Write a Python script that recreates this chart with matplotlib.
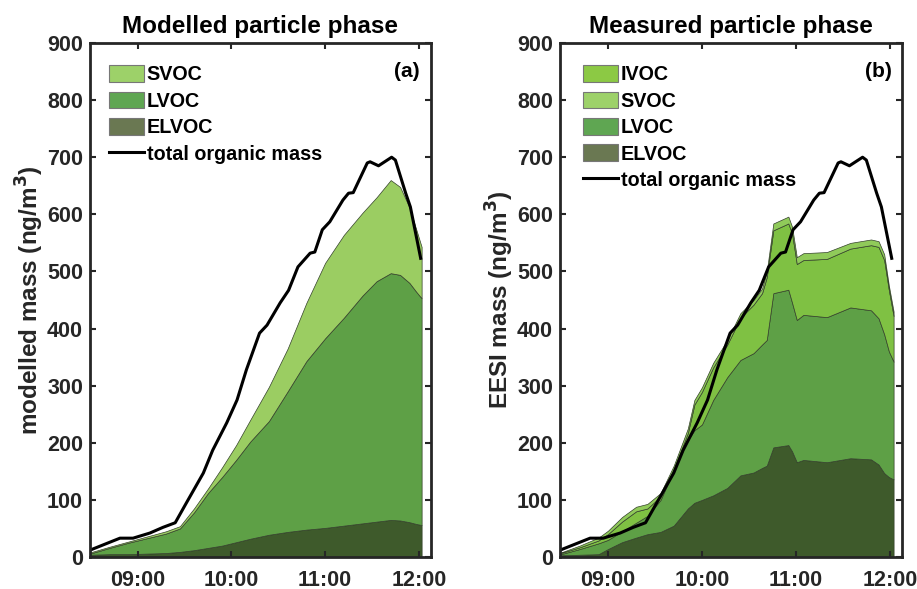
import numpy as np
import matplotlib
matplotlib.use("Agg")
import matplotlib.pyplot as plt
from matplotlib.patches import Patch
from matplotlib.lines import Line2D

plt.rcParams['font.family'] = ['Liberation Sans', 'DejaVu Sans']
plt.rcParams['font.weight'] = 'bold'

# ---------------- data (time in decimal hours) ----------------
# total organic mass (same in both panels)
tom_t = [8.49, 8.81, 8.95, 9.13, 9.27, 9.40, 9.52, 9.70, 9.80, 9.95, 10.06, 10.16,
         10.30, 10.38, 10.52, 10.61, 10.71, 10.84, 10.89, 10.97, 11.05, 11.19, 11.25,
         11.30, 11.45, 11.48, 11.57, 11.71, 11.75, 11.86, 11.91, 12.02]
tom_v = [12, 33, 33, 42, 52, 60, 95, 147, 187, 235, 275, 328, 392, 406, 445, 467,
         508, 532, 534, 573, 587, 625, 637, 638, 690, 692, 685, 700, 695, 637, 613, 523]

# (a) modelled particle phase
mod_t = [8.49, 8.7, 8.9, 9.1, 9.3, 9.45, 9.6, 9.75, 9.9, 10.05, 10.2, 10.4, 10.6,
         10.8, 11.0, 11.2, 11.4, 11.55, 11.7, 11.8, 11.9, 11.97, 12.03]
mod_elvoc = [4, 5, 5, 6, 7, 9, 12, 16, 20, 26, 32, 39, 44, 48, 51, 55, 59, 62, 65, 64, 61, 58, 56]
mod_lvoc = [2, 11, 20, 27, 34, 41, 66, 96, 120, 144, 170, 199, 246, 295, 332, 364, 399,
            421, 432, 430, 419, 407, 397]
mod_svoc = [2, 2, 2, 3, 4, 4, 7, 8, 17, 26, 38, 60, 75, 102, 132, 145, 145, 147, 163,
            154, 132, 110, 90]

# (b) measured particle phase (EESI)
mea_t = [8.50, 8.70, 8.90, 9.00, 9.15, 9.30, 9.42, 9.56, 9.70, 9.85, 9.92, 10.00, 10.12,
         10.27, 10.41, 10.55, 10.64, 10.69, 10.76, 10.92, 10.96, 11.01, 11.08, 11.33,
         11.58, 11.80, 11.88, 11.94, 11.99, 12.04]
mea_elvoc = [3, 4, 5, 14, 26, 34, 40, 44, 55, 85, 95, 100, 108, 121, 143, 148, 156, 160,
             192, 196, 185, 166, 170, 166, 173, 171, 162, 147, 140, 136]
mea_lvoc = [2, 10, 19, 16, 19, 26, 32, 56, 97, 120, 127, 132, 167, 194, 202, 209, 216,
            220, 270, 272, 260, 249, 254, 254, 264, 261, 256, 243, 220, 206]
mea_ivoc = [2, 3, 5, 10, 17, 20, 13, 6, 2, 12, 45, 57, 57, 57, 74, 85, 90, 110, 110,
            116, 121, 98, 96, 102, 103, 114, 125, 130, 107, 80]
mea_svoc = [1, 3, 5, 6, 8, 8, 8, 6, 6, 8, 8, 8, 8, 8, 8, 8, 8, 10, 12, 12, 12, 12, 12,
            12, 10, 10, 10, 10, 8, 8]

xticks = [9, 10, 11, 12]
xticklabels = ['09:00', '10:00', '11:00', '12:00']
yticks = [0, 100, 200, 300, 400, 500, 600, 700, 800, 900]

# ---------------- styles ----------------
C_ELVOC = '#3e5a2b'
C_LVOC = '#5ea046'
C_SVOC_A = '#9bcd62'
C_IVOC_B = '#7fc143'
C_SVOC_B = '#90ca5a'
L_ELVOC = '#6a7852'
L_LVOC = '#5fa652'
L_SVOC = '#9dd169'
L_IVOC = '#8cc944'
EDGE = '#33402a'
TXT = '#262626'

fig = plt.figure(figsize=(9.17, 5.89), dpi=100)
axA = fig.add_axes([0.0981, 0.0543, 0.3719, 0.8727])
axB = fig.add_axes([0.6107, 0.0543, 0.3730, 0.8727])

def style_axis(ax, ylabel, title, tag):
    ax.set_xlim(8.49, 12.13)
    ax.set_ylim(0, 900)
    ax.set_xticks(xticks)
    ax.set_xticklabels(xticklabels)
    ax.set_yticks(yticks)
    ax.tick_params(direction='in', top=True, right=True, length=4, width=1.5,
                   labelsize=15.5, colors=TXT)
    ax.tick_params(axis='x', pad=9)
    ax.tick_params(axis='y', pad=5)
    for lab in ax.get_xticklabels() + ax.get_yticklabels():
        lab.set_fontweight('bold')
    for s in ax.spines.values():
        s.set_linewidth(2.0)
        s.set_color(TXT)
    ax.set_ylabel(ylabel, fontsize=17.5, fontweight='bold', color=TXT, labelpad=1)
    ax.set_title(title, fontsize=17.5, fontweight='bold', color='black', pad=7)
    ax.text(0.93, 0.944, tag, transform=ax.transAxes, ha='center', va='center',
            fontsize=15, fontweight='bold', color='black')

leg_kw = dict(loc='upper left', frameon=False, handlelength=1.75, handleheight=0.92,
              handletextpad=0.15, labelspacing=0.37,
              prop={'weight': 'bold', 'size': 14.2}, borderaxespad=0.0)

# panel (a)
axA.stackplot(mod_t, mod_elvoc, mod_lvoc, mod_svoc,
              colors=[C_ELVOC, C_LVOC, C_SVOC_A], edgecolor=EDGE, linewidth=0.5)
axA.plot(tom_t, tom_v, color='black', lw=2.2)
style_axis(axA, 'modelled mass (ng/m$^\\mathbf{3}$)', 'Modelled particle phase', '(a)')
hA = [Patch(facecolor=L_SVOC, edgecolor='#777777', lw=0.8),
      Patch(facecolor=L_LVOC, edgecolor='#777777', lw=0.8),
      Patch(facecolor=L_ELVOC, edgecolor='#777777', lw=0.8),
      Line2D([], [], color='black', lw=2.2)]
axA.legend(hA, ['SVOC', 'LVOC', 'ELVOC', 'total organic mass'],
           bbox_to_anchor=(0.033, 0.972), **leg_kw)

# panel (b)
axB.stackplot(mea_t, mea_elvoc, mea_lvoc, mea_ivoc, mea_svoc,
              colors=[C_ELVOC, C_LVOC, C_IVOC_B, C_SVOC_B], edgecolor=EDGE, linewidth=0.5)
axB.plot(tom_t, tom_v, color='black', lw=2.2)
style_axis(axB, 'EESI mass (ng/m$^\\mathbf{3}$)', 'Measured particle phase', '(b)')
hB = [Patch(facecolor=L_IVOC, edgecolor='#777777', lw=0.8),
      Patch(facecolor=L_SVOC, edgecolor='#777777', lw=0.8),
      Patch(facecolor=L_LVOC, edgecolor='#777777', lw=0.8),
      Patch(facecolor=L_ELVOC, edgecolor='#777777', lw=0.8),
      Line2D([], [], color='black', lw=2.2)]
axB.legend(hB, ['IVOC', 'SVOC', 'LVOC', 'ELVOC', 'total organic mass'],
           bbox_to_anchor=(0.045, 0.972), **leg_kw)

fig.savefig('out.png', dpi=100)
